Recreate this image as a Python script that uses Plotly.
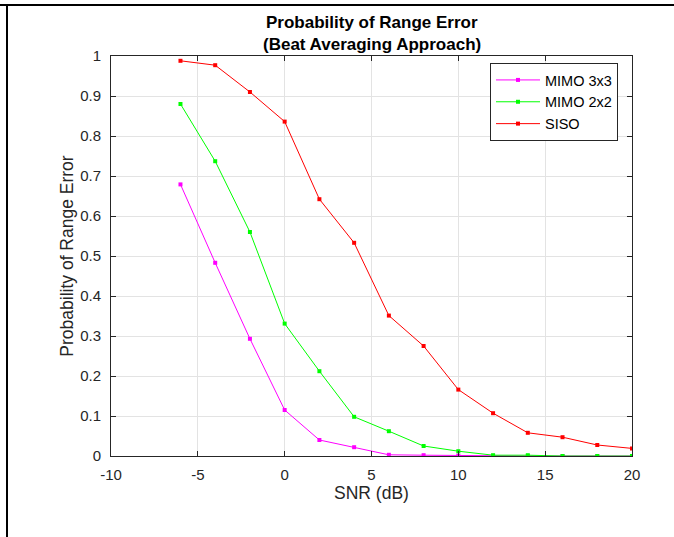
import plotly.graph_objects as go

snr = [-6, -4, -2, 0, 2, 4, 6, 8, 10, 12, 14, 16, 18, 20]
mimo3x3 = [0.679, 0.483, 0.293, 0.115, 0.040, 0.022, 0.003, 0.002, 0.001, 0.0, 0.0, 0.0, 0.0, 0.0]
mimo2x2 = [0.880, 0.737, 0.560, 0.331, 0.212, 0.098, 0.062, 0.025, 0.012, 0.002, 0.002, 0.0, 0.0, 0.0]
siso = [0.988, 0.977, 0.910, 0.836, 0.642, 0.533, 0.351, 0.275, 0.166, 0.107, 0.058, 0.047, 0.0275, 0.019]

series_names = ["MIMO 3x3", "MIMO 2x2", "SISO"]
series_colors = ["#FF00FF", "#00FF00", "#FF0000"]
x_ticks = [-10, -5, 0, 5, 10, 15, 20]
x_tick_labels = ["-10", "-5", "0", "5", "10", "15", "20"]
y_ticks = [0, 0.1, 0.2, 0.3, 0.4, 0.5, 0.6, 0.7, 0.8, 0.9, 1]
y_tick_labels = ["0", "0.1", "0.2", "0.3", "0.4", "0.5", "0.6", "0.7", "0.8", "0.9", "1"]
title_lines = ["Probability of Range Error", "(Beat Averaging Approach)"]

font = "Liberation Sans, Arial, Helvetica, sans-serif"
axcol = "#262626"

W, H = 674, 537
ML, MR, MT, MB = 111, 42, 56, 81
PW, PH = W - ML - MR, H - MT - MB

fig = go.Figure()
for name, vals, col in zip(series_names, [mimo3x3, mimo2x2, siso], series_colors):
    fig.add_trace(go.Scatter(
        x=snr, y=vals, name=name, mode="lines+markers",
        line=dict(color=col, width=1),
        marker=dict(color=col, size=4, symbol="square"),
    ))

axis_common = dict(
    showline=True, linecolor=axcol, linewidth=1, mirror="allticks",
    ticks="inside", ticklen=5, tickcolor=axcol,
    showgrid=True, gridcolor="#E3E3E3", gridwidth=1, zeroline=False,
    tickfont=dict(family=font, size=15, color=axcol),
)

fig.update_layout(
    width=W, height=H,
    paper_bgcolor="white", plot_bgcolor="white",
    margin=dict(l=ML, r=MR, t=MT, b=MB, autoexpand=False),
    font=dict(family=font, color=axcol),
    xaxis=dict(
        range=[-10, 20], tickvals=x_ticks, ticktext=x_tick_labels,
        title=dict(text="SNR (dB)", font=dict(family=font, size=17.5, color=axcol), standoff=4),
        ticklabelstandoff=5,
        **axis_common,
    ),
    yaxis=dict(
        range=[0, 1], tickvals=y_ticks, ticktext=y_tick_labels,
        title=dict(text="Probability of Range Error", font=dict(family=font, size=17.5, color=axcol), standoff=2),
        ticklabelstandoff=6,
        **axis_common,
    ),
    legend=dict(
        x=1 - 14 / PW, y=1 - 7 / PH, xanchor="right", yanchor="top",
        bgcolor="white", bordercolor=axcol, borderwidth=1,
        font=dict(family=font, size=14.5, color="black"),
        tracegroupgap=0, itemwidth=44,
    ),
    showlegend=True,
)

for txt, ypix in zip(title_lines, [22, 45]):
    fig.add_annotation(
        text="<b>" + txt + "</b>", xref="paper", yref="paper",
        x=0.5, y=(H - MB - ypix) / PH, xanchor="center", yanchor="middle",
        showarrow=False, font=dict(family=font, size=17, color="black"),
    )

# Figure frame lines (top and left border seen in the reference)
top_y = (H - MB - 5) / PH
left_x = (7 - ML) / PW
fig.add_shape(type="path", xref="paper", yref="paper", layer="above",
              path=f"M {-ML / PW} {top_y} L {(W - ML) / PW} {top_y} M {left_x} {top_y} L {left_x} {-MB / PH}",
              line=dict(color="black", width=2))

fig.write_html("out.html", config={"displayModeBar": False},
               post_script="document.body.style.margin='0';")
